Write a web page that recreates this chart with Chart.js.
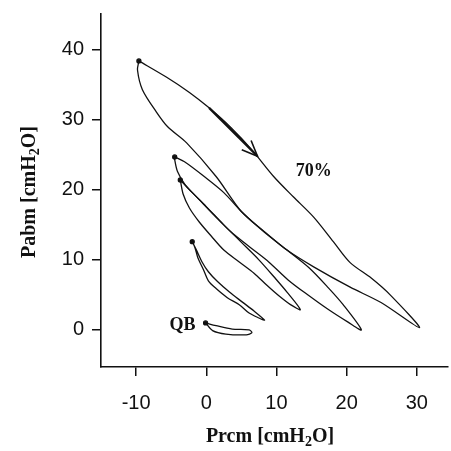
<!DOCTYPE html>
<html>
<head>
<meta charset="utf-8">
<script src="https://cdn.jsdelivr.net/npm/chart.js@4"></script>
<style>
  body { margin: 0; background: #fff; }
  #wrap { width: 451px; height: 451px; }
</style>
</head>
<body>
<div id="wrap"><canvas id="loops"></canvas></div>
<script>
// tick values
const xTicks = [-10, 0, 10, 20, 30];
const yTicks = [0, 10, 20, 30, 40];

// loops [Prcm, Pabm], first point is the start dot
const loop70 = [
  [-9.6, 38.4], [-5.7, 36.1], [-2.4, 33.9], [0.4, 31.7], [3.5, 28.9], [6.5, 25.7],
  [9.6, 21.9], [12.4, 19.0], [15.3, 16.1], [18.1, 12.6], [20.5, 9.6], [23.5, 7.4],
  [26.2, 5.0], [30.4, 0.3],
  [24.9, 3.9], [20.5, 6.1], [15.3, 9.0], [11.5, 11.4], [8.2, 14.1], [5.0, 16.9],
  [1.4, 21.9], [-2.8, 26.7], [-5.5, 29.0], [-7.1, 31.1], [-9.1, 34.3], [-9.8, 37.1],
  [-9.6, 38.4]
];
const loopA = [
  [-4.5, 24.7], [-3.1, 24.0], [-0.3, 21.9], [2.5, 19.6], [5.0, 16.9], [8.2, 14.0],
  [11.5, 11.4], [14.6, 8.9], [17.4, 6.0], [19.5, 3.6], [22.1, 0.0],
  [20.2, 1.1], [17.4, 2.9], [14.6, 4.9], [11.7, 7.1], [8.9, 9.7], [6.1, 11.9],
  [3.5, 14.0], [1.1, 16.4], [-1.0, 18.6], [-3.0, 20.7], [-4.1, 22.6], [-4.5, 24.3],
  [-4.5, 24.7]
];
const loopB = [
  [-3.7, 21.4], [-2.1, 19.7], [0.0, 17.6], [2.4, 15.1], [4.9, 12.6], [7.5, 10.0],
  [9.8, 7.4], [11.5, 5.4], [13.4, 2.9],
  [12.0, 3.6], [10.3, 4.9], [8.6, 6.4], [6.8, 8.1], [4.7, 9.7], [2.5, 11.4],
  [0.7, 13.4], [-1.0, 15.4], [-2.4, 17.4], [-3.3, 19.4], [-3.7, 21.4]
];
const loopC = [
  [-2.0, 12.6], [-1.4, 11.4], [-0.6, 9.7], [0.3, 8.3], [1.6, 6.9], [3.3, 5.4],
  [5.1, 4.0], [6.8, 2.7], [8.3, 1.4],
  [7.5, 1.7], [6.1, 2.4], [4.7, 3.6], [3.0, 4.6], [1.4, 5.9], [0.3, 7.0],
  [-0.4, 8.6], [-1.2, 10.3], [-1.6, 11.7], [-2.0, 12.6]
];
const loopQB = [
  [-0.1, 1.0], [0.9, -0.1], [2.8, -0.6], [5.7, -0.7], [6.5, -0.4], [6.1, 0.0],
  [3.7, 0.1], [1.4, 0.6], [-0.1, 1.0]
];

// annotations
const labels = [
  { text: "70%", at: [15.3, 22.6] },
  { text: "QB", at: [-3.4, 0.7] }
];
const arrowFrom = [0.4, 31.7];
const arrowTip = [7.3, 24.8];

const toPts = arr => arr.map(p => ({ x: p[0], y: p[1] }));

function loopSet(pts) {
  return {
    data: toPts(pts),
    showLine: true,
    borderColor: "#111",
    borderWidth: 1.3,
    tension: 0.3,
    backgroundColor: "#111",
    pointRadius: ctx => (ctx.dataIndex === 0 ? 2 : 0),
    pointHoverRadius: 0
  };
}

const serif = "'Liberation Serif', 'Times New Roman', serif";

const extras = {
  id: "extras",
  afterDraw(chart) {
    const { ctx, scales } = chart;
    const xs = scales.x, ys = scales.y;
    ctx.save();
    ctx.fillStyle = "#111";
    ctx.strokeStyle = "#111";

    // arrow on the 70% loop
    const x0 = xs.getPixelForValue(arrowFrom[0]), y0 = ys.getPixelForValue(arrowFrom[1]);
    const x1 = xs.getPixelForValue(arrowTip[0]), y1 = ys.getPixelForValue(arrowTip[1]);
    ctx.lineWidth = 2.2;
    ctx.beginPath();
    ctx.moveTo(x0, y0);
    ctx.lineTo(x1, y1);
    ctx.stroke();
    const ang = Math.atan2(y1 - y0, x1 - x0);
    ctx.lineWidth = 1.6;
    ctx.beginPath();
    ctx.moveTo(x1 - 17 * Math.cos(ang - 0.4), y1 - 17 * Math.sin(ang - 0.4));
    ctx.lineTo(x1, y1);
    ctx.lineTo(x1 - 17 * Math.cos(ang + 0.4), y1 - 17 * Math.sin(ang + 0.4));
    ctx.stroke();

    // loop labels
    ctx.font = "bold 18px " + serif;
    ctx.textAlign = "center";
    ctx.textBaseline = "middle";
    labels.forEach(l => {
      ctx.fillText(l.text, xs.getPixelForValue(l.at[0]), ys.getPixelForValue(l.at[1]));
    });

    // axis titles with subscript
    function title(parts, cx, cy, rot) {
      ctx.save();
      ctx.translate(cx, cy);
      ctx.rotate(rot);
      let w = 0;
      parts.forEach(p => {
        ctx.font = "bold " + (p.sub ? 14 : 20) + "px " + serif;
        w += ctx.measureText(p.t).width;
      });
      let x = -w / 2;
      ctx.textAlign = "left";
      ctx.textBaseline = "middle";
      parts.forEach(p => {
        ctx.font = "bold " + (p.sub ? 14 : 20) + "px " + serif;
        ctx.fillText(p.t, x, p.sub ? 5 : 0);
        x += ctx.measureText(p.t).width;
      });
      ctx.restore();
    }
    title([{ t: "Prcm [cmH" }, { t: "2", sub: true }, { t: "O]" }], 270, 437, 0);
    title([{ t: "Pabm [cmH" }, { t: "2", sub: true }, { t: "O]" }], 30, 192, -Math.PI / 2);
    ctx.restore();
  }
};

Chart.defaults.font.family = "'Liberation Sans', Arial, sans-serif";
Chart.defaults.color = "#111";

new Chart(document.getElementById("loops"), {
  type: "scatter",
  data: {
    datasets: [loopSet(loop70), loopSet(loopA), loopSet(loopB), loopSet(loopC), loopSet(loopQB)]
  },
  options: {
    responsive: true,
    maintainAspectRatio: false,
    animation: false,
    layout: { padding: { top: 14, right: 1, left: 0, bottom: 0 } },
    plugins: {
      legend: { display: false },
      tooltip: { enabled: false }
    },
    scales: {
      x: {
        type: "linear",
        min: -15,
        max: 34.4,
        afterBuildTicks: s => { s.ticks = xTicks.map(v => ({ value: v })); },
        afterFit: s => { s.height = 84; s.paddingLeft = 0; s.paddingRight = 0; },
        ticks: { color: "#111", font: { size: 20 }, padding: 15, maxRotation: 0 },
        grid: { display: true, drawOnChartArea: false, drawTicks: true, tickLength: 9, color: "#111", lineWidth: 1.5 },
        border: { display: true, color: "#111", width: 1.6 }
      },
      y: {
        type: "linear",
        min: -5.3,
        max: 45.1,
        afterBuildTicks: s => { s.ticks = yTicks.map(v => ({ value: v })); },
        afterFit: s => { s.width = 101; s.paddingTop = 0; s.paddingBottom = 0; },
        ticks: { color: "#111", font: { size: 20 }, padding: 8 },
        grid: { display: true, drawOnChartArea: false, drawTicks: true, tickLength: 9, color: "#111", lineWidth: 1.5 },
        border: { display: true, color: "#111", width: 1.6 }
      }
    }
  },
  plugins: [extras]
});
</script>
</body>
</html>
